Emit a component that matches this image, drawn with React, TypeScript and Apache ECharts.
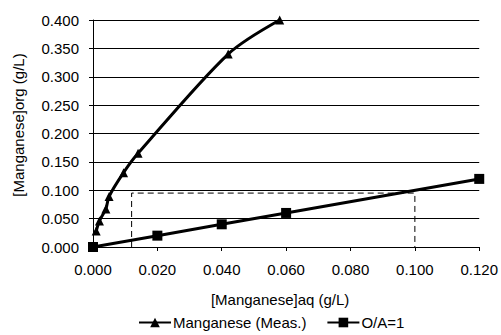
import React, { useEffect, useRef } from "react";
import * as echarts from "echarts";

const measX = [0.001, 0.002, 0.004, 0.005, 0.0095, 0.014, 0.042, 0.058];
const measY = [0.028, 0.046, 0.067, 0.089, 0.131, 0.165, 0.340, 0.400];
const oaX = [0, 0.02, 0.04, 0.06, 0.12];
const oaY = [0, 0.02, 0.04, 0.06, 0.12];
const guideX = [0.012, 0.012, 0.1, 0.1];
const guideY = [0, 0.095, 0.095, 0];
const seriesNames = ["Manganese (Meas.)", "O/A=1"];

const FONT = "'Liberation Sans', Arial, sans-serif";

export default function App() {
  const ref = useRef<HTMLDivElement>(null);
  useEffect(() => {
    if (!ref.current) return;
    const chart = echarts.init(ref.current, null, { renderer: "svg" });
    chart.setOption({
      animation: false,
      backgroundColor: "#ffffff",
      textStyle: { fontFamily: FONT },
      grid: { left: 93, right: 17, top: 20, bottom: 88 },
      legend: {
        data: seriesNames.map((n) => ({ name: n })),
        left: 138,
        top: 315,
        padding: 0,
        itemWidth: 32,
        itemHeight: 12,
        itemGap: 20,
        textStyle: { fontFamily: FONT, fontSize: 15, color: "#000", padding: [0, 0, 0, -3] },
      },
      graphic: [
        {
          type: "text",
          x: 18,
          y: 125,
          rotation: Math.PI / 2,
          style: {
            text: "[Manganese]org (g/L)",
            fontFamily: FONT,
            fontSize: 15,
            fill: "#000",
            textAlign: "center",
            textVerticalAlign: "middle",
          },
        },
      ],
      xAxis: {
        type: "value",
        min: 0,
        max: 0.12,
        interval: 0.02,
        name: "[Manganese]aq (g/L)",
        nameLocation: "middle",
        nameGap: 45,
        nameTextStyle: { fontFamily: FONT, fontSize: 15, color: "#000", padding: [0, 12, 0, 0] },
        axisLine: { show: true, lineStyle: { color: "#000", width: 1 } },
        axisTick: { show: true, length: 4, lineStyle: { color: "#000" } },
        axisLabel: {
          margin: 15,
          fontFamily: FONT,
          fontSize: 15,
          color: "#000",
          formatter: (v: number) => v.toFixed(3),
        },
        splitLine: { show: false },
      },
      yAxis: {
        type: "value",
        min: 0,
        max: 0.4,
        interval: 0.05,
        axisLine: { show: true, lineStyle: { color: "#000", width: 1 } },
        axisTick: { show: true, length: 4, lineStyle: { color: "#000" } },
        axisLabel: {
          margin: 14,
          fontFamily: FONT,
          fontSize: 15,
          color: "#000",
          formatter: (v: number) => v.toFixed(3),
        },
        splitLine: { show: true, lineStyle: { color: "#000", width: 1 } },
      },
      series: [
        {
          name: seriesNames[0],
          type: "line",
          smooth: 0.3,
          data: measX.map((x, i) => [x, measY[i]]),
          symbol: "triangle",
          symbolSize: 9,
          lineStyle: { color: "#000", width: 3 },
          itemStyle: { color: "#000" },
          z: 3,
        },
        {
          name: seriesNames[1],
          type: "line",
          data: oaX.map((x, i) => [x, oaY[i]]),
          symbol: "rect",
          symbolSize: 10,
          lineStyle: { color: "#000", width: 3 },
          itemStyle: { color: "#000" },
          z: 3,
        },
        {
          name: "guide",
          type: "line",
          data: guideX.map((x, i) => [x, guideY[i]]),
          symbol: "none",
          lineStyle: { color: "#000", width: 1, type: [6, 4] },
          z: 2,
        },
      ],
    });
    return () => chart.dispose();
  }, []);
  return <div ref={ref} style={{ width: 501, height: 335, position: "absolute", left: 0, top: 0 }} />;
}
